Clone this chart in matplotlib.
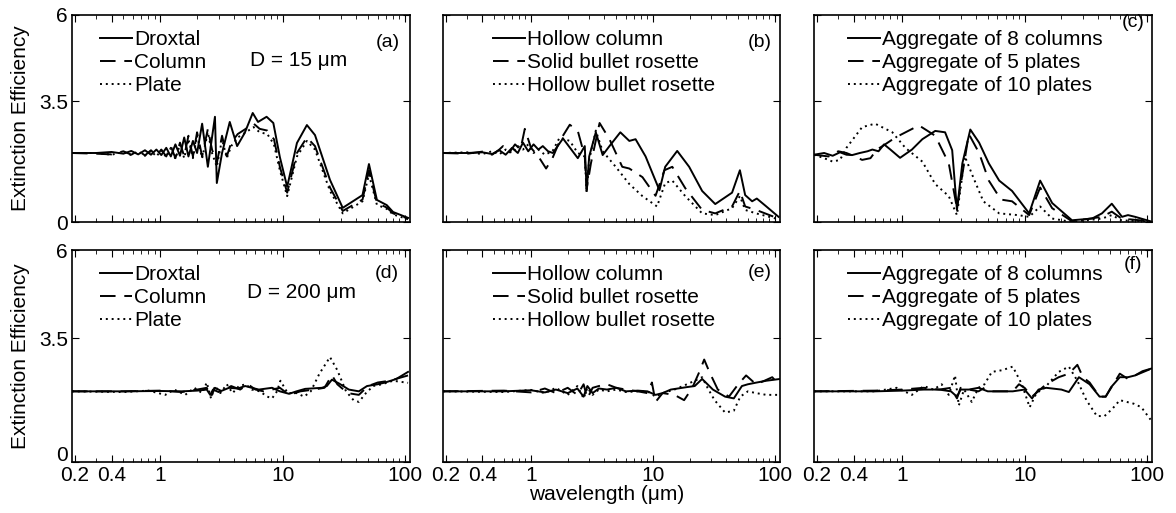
import matplotlib
matplotlib.use('Agg')
import matplotlib.pyplot as plt
import matplotlib.transforms as mtransforms
from matplotlib.ticker import FixedLocator, FixedFormatter, LogLocator, NullFormatter

plt.rcParams['font.family'] = ['Liberation Sans', 'DejaVu Sans']
plt.rcParams['font.size'] = 15

# ---- (a) D = 15 um ----
a_drox_lam = [0.19, 0.3, 0.4, 0.5, 0.58, 0.66, 0.75, 0.84, 0.93, 1.02, 1.12, 1.22, 1.33, 1.45, 1.57, 1.7, 1.85,
              2.0, 2.2, 2.45, 2.8, 2.9, 3.2, 3.7, 4.25, 4.9, 5.7, 6.3, 7.4, 8.4, 9.5, 10.9, 13.1, 15.8, 18.4,
              24.4, 31, 45, 50.8, 59, 71, 80, 106]
a_drox_val = [2.0, 2.0, 2.03, 1.98, 2.06, 1.96, 2.08, 1.95, 2.1, 1.94, 2.15, 1.9, 2.25, 1.92, 2.45, 1.9, 2.35,
              2.0, 2.85, 1.6, 3.05, 1.13, 2.0, 2.9, 2.2, 2.58, 3.16, 2.9, 3.05, 2.87, 1.88, 1.02, 2.29, 2.81, 2.52,
              1.22, 0.41, 0.78, 1.68, 0.64, 0.49, 0.29, 0.12]
a_col_lam = [0.19, 0.3, 0.4, 0.5, 0.58, 0.66, 0.75, 0.84, 0.93, 1.02, 1.12, 1.22, 1.33, 1.45, 1.57, 1.7, 1.85,
             2.0, 2.2, 2.45, 2.65, 2.9, 3.2, 3.5, 3.8, 4.3, 5.0, 5.8, 6.5, 7.5, 8.5, 9.5, 10.9, 13.1, 15.8, 18.4,
             24.4, 31, 45, 50.8, 59, 71, 80, 106]
a_col_val = [2.0, 1.98, 1.96, 2.05, 1.95, 2.07, 1.93, 2.08, 1.92, 2.1, 1.9, 2.2, 1.85, 2.3, 1.9, 2.5, 1.9,
             2.6, 1.9, 2.7, 2.1, 1.7, 2.5, 1.9, 2.3, 2.55, 2.7, 2.85, 2.7, 2.65, 2.4, 1.6, 0.85, 2.0, 2.45, 2.2,
             1.0, 0.32, 0.65, 1.5, 0.55, 0.42, 0.25, 0.1]
a_plate_lam = a_col_lam
a_plate_val = [2.0, 2.0, 1.95, 2.03, 1.94, 2.05, 1.92, 2.06, 1.9, 2.08, 1.88, 2.15, 1.83, 2.25, 1.85, 2.4, 1.85,
               2.5, 1.85, 2.6, 2.0, 1.6, 2.4, 1.85, 2.2, 2.45, 2.6, 2.75, 2.6, 2.55, 2.25, 1.5, 0.75, 1.9, 2.35,
               2.1, 0.9, 0.25, 0.6, 1.38, 0.5, 0.38, 0.22, 0.08]

# ---- (b) ----
b_hc_lam = [0.19, 0.3, 0.4, 0.48, 0.55, 0.62, 0.7, 0.78, 0.86, 0.95, 1.05, 1.15, 1.25, 1.38, 1.51, 1.83, 2.12,
            2.42, 2.76, 2.86, 3.0, 3.4, 3.87, 4.4, 5.4, 6.4, 7.2, 8.7, 11.3, 12.6, 15.8, 19.8, 25.3, 32.4, 44.5,
            51.6, 57, 65, 71, 85, 107]
b_hc_val = [2.0, 2.0, 2.02, 1.97, 2.08, 1.95, 2.15, 2.0, 2.3, 2.05, 2.25, 2.1, 2.2, 2.05, 2.0, 2.42, 2.12,
            1.85, 2.2, 0.9, 1.9, 2.6, 1.94, 2.2, 2.6, 2.35, 2.4, 1.9, 0.92, 1.6, 2.06, 1.6, 0.9, 0.52, 0.85,
            1.5, 0.78, 0.6, 0.68, 0.45, 0.15]
b_sbr_lam = [0.19, 0.3, 0.4, 0.48, 0.55, 0.59, 0.66, 0.74, 0.82, 0.89, 1.0, 1.15, 1.33, 1.5, 1.72, 2.08, 2.42,
             2.76, 2.86, 3.1, 3.65, 4.4, 5.6, 6.4, 8.2, 10.5, 12.4, 14.4, 18.4, 25.3, 32.4, 44.5, 51.6, 57, 70,
             107]
b_sbr_val = [2.0, 1.98, 2.04, 1.95, 2.1, 2.2, 2.0, 2.25, 2.1, 2.7, 2.15, 1.9, 1.55, 1.85, 2.35, 2.82, 2.64,
             1.9, 0.95, 1.7, 2.87, 2.4, 1.6, 1.55, 1.3, 0.76, 1.5, 1.6, 0.98, 0.35, 0.25, 0.45, 0.9, 0.45, 0.35,
             0.1]
b_hbr_lam = [0.19, 0.3, 0.4, 0.48, 0.55, 0.62, 0.7, 0.78, 0.86, 0.95, 1.05, 1.15, 1.3, 1.5, 1.72, 2.08, 2.42,
             2.76, 2.86, 3.0, 3.4, 3.87, 4.95, 6.4, 8.2, 10.8, 12.6, 14.4, 18.4, 25.3, 32.4, 44.5, 51.6, 57, 70,
             107]
b_hbr_val = [2.0, 2.02, 1.97, 2.05, 1.96, 2.1, 2.0, 2.2, 2.1, 2.25, 2.0, 2.1, 1.95, 2.05, 2.45, 2.35, 2.0,
             1.9, 0.85, 1.8, 2.65, 2.05, 1.6, 1.1, 0.75, 0.45, 1.13, 1.2, 0.75, 0.25, 0.2, 0.4, 0.75, 0.35, 0.25,
             0.08]

# ---- (c) ----
c_a8_lam = [0.19, 0.23, 0.27, 0.31, 0.35, 0.39, 0.45, 0.52, 0.57, 0.64, 0.71, 0.8, 0.96, 1.2, 1.46, 1.86, 2.24,
            2.56, 2.8, 3.1, 3.6, 4.25, 5.1, 6.2, 7.9, 10.9, 13.4, 16.8, 24.4, 35.6, 42.9, 51.6, 62.6, 70, 80, 107]
c_a8_val = [1.95, 2.0, 1.92, 2.02, 1.95, 1.94, 2.0, 2.05, 2.1, 2.05, 2.25, 2.1, 1.86, 2.1, 2.4, 2.64, 2.6,
            2.08, 0.35, 1.7, 2.68, 2.3, 1.7, 1.2, 0.9, 0.25, 1.2, 0.55, 0.05, 0.1, 0.25, 0.53, 0.15, 0.2, 0.15,
            0.02]
c_a5_lam = [0.19, 0.25, 0.3, 0.35, 0.41, 0.47, 0.55, 0.62, 0.69, 0.88, 1.37, 1.86, 2.4, 2.8, 3.5, 4.25, 5.1,
            6.4, 7.9, 10.9, 13.4, 16.8, 24.4, 42.9, 51.6, 62, 107]
c_a5_val = [1.95, 1.9, 2.05, 2.0, 1.9, 1.8, 1.85, 2.1, 2.2, 2.45, 2.8, 2.5, 1.7, 0.4, 2.55, 2.0, 1.2,
            0.65, 0.6, 0.2, 1.0, 0.4, 0.02, 0.15, 0.3, 0.1, 0.02]
c_a10_lam = [0.19, 0.23, 0.27, 0.31, 0.35, 0.47, 0.6, 0.83, 1.06, 1.46, 1.86, 2.4, 2.8, 3.25, 3.8, 4.6, 6.2,
             8.8, 10.9, 13.4, 16.8, 24.4, 42.9, 51.6, 62, 107]
c_a10_val = [1.95, 1.85, 1.75, 1.8, 2.15, 2.75, 2.85, 2.6, 2.15, 1.75, 1.1, 0.75, 0.2, 1.9, 1.3, 0.6, 0.25,
             0.2, 0.15, 0.45, 0.1, 0.0, 0.1, 0.2, 0.05, 0.0]

# ---- (d) D = 200 um ----
d_drox_lam = [0.19, 0.5, 1.0, 1.5, 2.0, 2.4, 2.56, 2.7, 3.0, 3.65, 4.3, 4.95, 5.6, 6.4, 8.2, 9.5, 11.3, 13,
              15.3, 21, 23, 25.3, 29, 34.8, 42, 49, 60, 69, 85, 106]
d_drox_val = [2.0, 2.0, 2.01, 2.0, 2.02, 2.05, 1.9, 2.05, 1.98, 2.1, 2.08, 2.15, 2.1, 2.05, 2.1, 2.0, 1.93, 2.0,
              2.07, 2.1, 2.15, 2.33, 2.22, 2.05, 2.0, 2.15, 2.2, 2.25, 2.35, 2.55]
d_col_lam = [0.19, 0.5, 1.0, 1.5, 2.0, 2.4, 2.6, 2.8, 3.2, 3.8, 4.5, 5.2, 6.0, 7.0, 8.2, 9.5, 11.3, 14, 18,
             22, 25.3, 28, 34, 42, 50, 60, 75, 106]
d_col_val = [2.0, 2.0, 2.02, 1.98, 2.05, 2.1, 1.85, 2.1, 2.0, 2.15, 2.05, 2.2, 2.05, 2.0, 2.05, 2.1, 1.9, 2.0,
             2.05, 2.1, 2.46, 2.2, 1.95, 1.9, 2.15, 2.25, 2.3, 2.45]
d_plate_lam = [0.19, 0.5, 0.8, 1.1, 1.3, 1.6, 1.9, 2.2, 2.4, 2.6, 2.8, 3.1, 3.5, 3.9, 4.4, 5.0, 5.6, 6.5, 7.5,
               8.2, 9.0, 9.6, 11, 13, 15, 17, 20, 24.4, 28, 33, 38, 42, 48, 55, 65, 80, 106]
d_plate_val = [2.0, 1.98, 2.02, 1.9, 2.05, 1.9, 2.1, 1.95, 2.25, 1.8, 2.15, 1.95, 2.2, 1.95, 2.15, 2.2, 2.05,
               2.0, 1.85, 1.8, 2.0, 2.3, 1.95, 1.95, 1.85, 2.0, 2.5, 2.97, 2.6, 2.0, 1.75, 1.7, 1.95, 2.15, 2.2,
               2.3, 2.24]

# ---- (e) ----
e_hc_lam = [0.19, 0.6, 1.0, 1.3, 1.6, 2.0, 2.4, 2.7, 2.9, 3.2, 3.6, 4.2, 5, 6, 7.5, 9, 10.5, 12, 14, 19, 22,
            25.3, 31, 39, 46, 53.6, 60, 71, 85, 110]
e_hc_val = [2.0, 2.0, 2.03, 1.97, 2.05, 1.95, 2.08, 1.85, 2.15, 1.95, 2.08, 2.05, 2.1, 2.0, 2.02, 2.0, 1.9,
            1.95, 2.05, 2.12, 2.15, 2.35, 2.05, 1.85, 1.8, 2.15, 2.2, 2.25, 2.3, 2.35]
e_sbr_lam = [0.19, 0.6, 1.0, 1.3, 1.6, 2.0, 2.4, 2.7, 2.9, 3.2, 3.6, 4.2, 5, 6, 7.5, 9, 9.8, 10.5, 12, 15, 18,
             21, 24, 26.3, 29, 34, 42, 50, 58, 70, 82, 95, 110]
e_sbr_val = [2.0, 2.02, 1.97, 2.08, 1.95, 2.1, 1.9, 2.2, 1.8, 2.1, 2.15, 2.2, 2.1, 2.05, 2.0, 1.95, 2.25, 1.7,
             1.95, 1.9, 1.75, 2.1, 2.55, 2.9, 2.55, 2.05, 1.85, 2.2, 2.45, 2.2, 2.3, 2.4, 2.15]
e_hbr_lam = [0.19, 0.6, 1.0, 1.3, 1.6, 2.0, 2.4, 2.7, 2.9, 3.2, 3.6, 4.2, 5, 6, 7.5, 9, 10.5, 12, 15, 19, 22,
             25.3, 28, 32, 39, 46, 52, 60, 70, 85, 110]
e_hbr_val = [2.0, 1.98, 2.04, 1.95, 2.1, 1.9, 2.15, 1.8, 2.1, 1.9, 2.05, 2.0, 2.05, 1.98, 2.0, 2.0, 1.85, 1.95,
             2.05, 2.2, 2.3, 2.4, 2.1, 1.75, 1.4, 1.45, 1.85, 2.0, 1.95, 1.9, 1.9]

# ---- (f) ----
f_a8_lam = [0.19, 0.6, 1.0, 1.5, 2.0, 2.5, 2.8, 3.0, 3.5, 4.2, 5, 6, 8, 10, 11.5, 13, 15, 20, 23, 27.8, 34, 41,
            46, 51, 60, 70, 80, 92, 110]
f_a8_val = [2.0, 2.0, 2.02, 2.05, 2.05, 2.0, 1.85, 2.05, 2.05, 2.1, 2.0, 2.0, 2.0, 2.05, 1.8, 2.05, 2.1, 2.05,
            1.98, 2.4, 2.2, 1.85, 1.85, 2.12, 2.4, 2.4, 2.45, 2.57, 2.65]
f_a5_lam = [0.19, 0.6, 1.0, 1.5, 2.0, 2.5, 2.8, 3.0, 3.5, 4.2, 4.7, 5.5, 8, 9, 10, 11.5, 15, 19, 23, 27, 30,
            34, 41, 46, 51, 60, 70, 80, 110]
f_a5_val = [2.0, 2.02, 2.05, 2.1, 2.05, 2.1, 1.8, 2.1, 2.05, 2.0, 2.1, 2.0, 2.0, 2.2, 2.1, 1.85, 2.2, 2.4, 2.5,
            2.75, 2.4, 2.25, 1.85, 1.85, 2.1, 2.5, 2.35, 2.45, 2.65]
f_a10_lam = [0.19, 0.6, 0.9, 1.2, 1.5, 1.8, 2.1, 2.4, 2.7, 2.9, 3.2, 3.7, 4.2, 4.7, 5.4, 6.6, 8, 9.5, 11, 12.5,
             14.6, 19, 23, 27, 32, 39, 45, 52, 60, 78, 90, 107]
f_a10_val = [2.0, 2.0, 2.1, 1.9, 2.15, 2.05, 2.2, 1.9, 2.45, 1.6, 2.05, 1.7, 2.1, 2.2, 2.55, 2.6, 2.7, 2.2, 1.55,
             1.95, 2.1, 2.55, 2.7, 2.3, 1.75, 1.3, 1.3, 1.5, 1.75, 1.65, 1.55, 1.2]

labels_a = ['Droxtal', 'Column', 'Plate']
labels_b = ['Hollow column', 'Solid bullet rosette', 'Hollow bullet rosette']
labels_c = ['Aggregate of 8 columns', 'Aggregate of 5 plates', 'Aggregate of 10 plates']
x_ticks = [0.2, 0.4, 1, 10, 100]
x_ticklabels = ['0.2', '0.4', '1', '10', '100']
y_ticks = [0, 3.5, 6]
y_ticklabels = ['0', '3.5', '6']

panels = [
    ('(a)', labels_a, [(a_drox_lam, a_drox_val), (a_col_lam, a_col_val), (a_plate_lam, a_plate_val)]),
    ('(b)', labels_b, [(b_hc_lam, b_hc_val), (b_sbr_lam, b_sbr_val), (b_hbr_lam, b_hbr_val)]),
    ('(c)', labels_c, [(c_a8_lam, c_a8_val), (c_a5_lam, c_a5_val), (c_a10_lam, c_a10_val)]),
    ('(d)', labels_a, [(d_drox_lam, d_drox_val), (d_col_lam, d_col_val), (d_plate_lam, d_plate_val)]),
    ('(e)', labels_b, [(e_hc_lam, e_hc_val), (e_sbr_lam, e_sbr_val), (e_hbr_lam, e_hbr_val)]),
    ('(f)', labels_c, [(f_a8_lam, f_a8_val), (f_a5_lam, f_a5_val), (f_a10_lam, f_a10_val)]),
]

W, H = 1176, 513
fig = plt.figure(figsize=(W / 100, H / 100), dpi=100)

col_left = [72, 443, 814]
col_width = [338, 337, 338]
row_top = [15, 250]
row_height = [207, 212]
legend_dx = [28, 50, 34]
label_pos = [(0.935, 0.865), (0.94, 0.865), (0.944, 0.965), (0.93, 0.89), (0.94, 0.895), (0.944, 0.93)]
styles = [dict(ls='-'), dict(ls=(0, (8, 4.5))), dict(ls=(0, (1, 2)))]

for i, (tag, labels, series) in enumerate(panels):
    r, c = divmod(i, 3)
    left = col_left[c] / W
    bottom = 1 - (row_top[r] + row_height[r]) / H
    ax = fig.add_axes([left, bottom, col_width[c] / W, row_height[r] / H])
    for (lam, val), lab, st in zip(series, labels, styles):
        ax.plot(lam, val, color='black', lw=1.4, label=lab, **st)
    ax.set_xscale('log')
    ax.set_xlim(0.19, 110)
    ax.set_ylim(0, 6)
    ax.xaxis.set_major_locator(FixedLocator(x_ticks))
    ax.xaxis.set_minor_locator(LogLocator(base=10, subs=range(2, 10)))
    ax.xaxis.set_minor_formatter(NullFormatter())
    ax.yaxis.set_major_locator(FixedLocator(y_ticks))
    if r == 1:
        ax.xaxis.set_major_formatter(FixedFormatter(x_ticklabels))
    else:
        ax.set_xticklabels([])
    if c == 0:
        ax.yaxis.set_major_formatter(FixedFormatter(y_ticklabels))
    else:
        ax.set_yticklabels([])
    ax.tick_params(which='both', direction='in', top=True, right=True, labelsize=15, pad=3)
    ax.tick_params(which='major', length=5)
    ax.tick_params(which='minor', length=3)
    for sp in ax.spines.values():
        sp.set_linewidth(1.2)
    if r == 1 and c == 0:
        # lift the "0" a little, as in the original
        fig.canvas.draw()
        lab0 = ax.get_yticklabels()[0]
        lab0.set_transform(lab0.get_transform() + mtransforms.ScaledTranslation(0, 6 / 72, fig.dpi_scale_trans))
    ax.legend(loc='upper left', bbox_to_anchor=(legend_dx[c] / col_width[c], 1 - 15 / row_height[r]),
              frameon=False, fontsize=15, handlelength=1.55, handletextpad=0.1, labelspacing=0.2,
              borderpad=0, borderaxespad=0)
    ax.text(label_pos[i][0], label_pos[i][1], tag, transform=ax.transAxes, ha='center', va='center', fontsize=14)
    if i == 0:
        ax.text(0.67, 0.78, 'D = 15 \u03bcm', transform=ax.transAxes, ha='center', va='center', fontsize=15)
    if i == 3:
        ax.text(0.68, 0.80, 'D = 200 \u03bcm', transform=ax.transAxes, ha='center', va='center', fontsize=15)

fig.text(20 / W, 1 - 118 / H, 'Extinction Efficiency', rotation=90, ha='center', va='center', fontsize=15)
fig.text(20 / W, 1 - 356 / H, 'Extinction Efficiency', rotation=90, ha='center', va='center', fontsize=15)
fig.text(607 / W, 1 - 494 / H, 'wavelength (\u03bcm)', ha='center', va='center', fontsize=15)

fig.savefig('out.png', dpi=100)
